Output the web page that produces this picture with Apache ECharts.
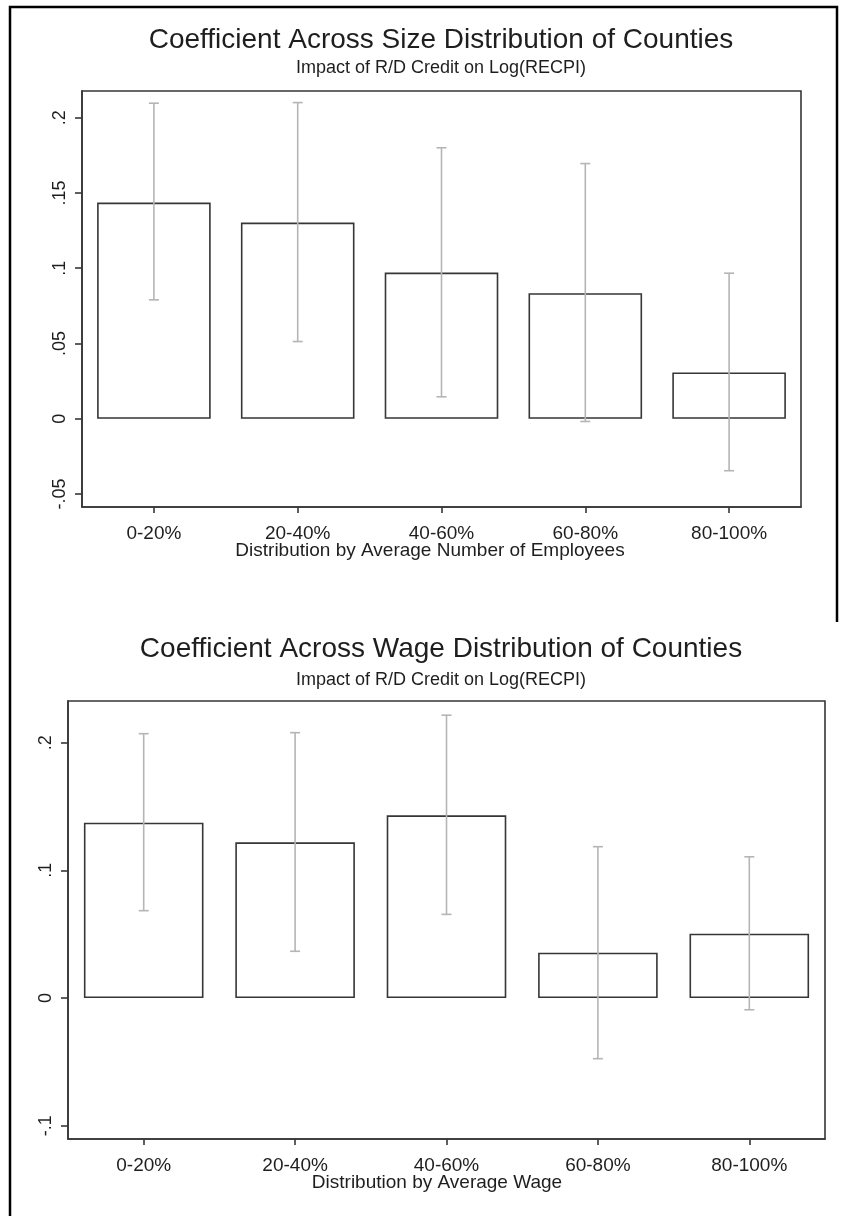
<!DOCTYPE html>
<html>
<head>
<meta charset="utf-8">
<script src="https://cdn.jsdelivr.net/npm/echarts@6/dist/echarts.min.js"></script>
<style>
  html, body { margin: 0; padding: 0; background: #fff; }
  #chart { width: 843px; height: 1216px; }
</style>
</head>
<body>
<div id="chart"></div>
<script>
// Quintile categories shared by both panels
const categories = ['0-20%', '20-40%', '40-60%', '60-80%', '80-100%'];

// Panel 1: size distribution (average number of employees)
const sizeCoef = [0.1436, 0.1303, 0.0971, 0.0834, 0.0308];
const sizeLow  = [0.0790, 0.0513, 0.0146, -0.0018, -0.0345];
const sizeHigh = [0.2096, 0.2100, 0.1800, 0.1695, 0.0967];
const sizeTicks = [-0.05, 0, 0.05, 0.1, 0.15, 0.2];
const sizeTickLabels = ['-.05', '0', '.05', '.1', '.15', '.2'];

// Panel 2: wage distribution (average wage)
const wageCoef = [0.1373, 0.1219, 0.1431, 0.0355, 0.0504];
const wageLow  = [0.0684, 0.0366, 0.0655, -0.0475, -0.0092];
const wageHigh = [0.2070, 0.2078, 0.2215, 0.1185, 0.1106];
const wageTicks = [-0.1, 0, 0.1, 0.2];
const wageTickLabels = ['-.1', '0', '.1', '.2'];

const FONT = '"Liberation Sans", Arial, Helvetica, sans-serif';
const INK = '#1e1e1e';
const FRAME = '#363636';
const CI_COLOR = '#b5b5b5';

const chart = echarts.init(document.getElementById('chart'), null, { renderer: 'canvas' });

function yAxisFor(gridIndex, min, max, ticks, labels) {
  return {
    type: 'value', gridIndex, min, max,
    axisLine: { show: true, onZero: false, lineStyle: { color: FRAME, width: 1.6 } },
    axisTick: { show: true, length: 7, inside: false, customValues: ticks,
                lineStyle: { color: FRAME, width: 1.6 } },
    axisLabel: {
      show: true, customValues: ticks, rotate: 90, margin: 13,
      fontFamily: FONT, fontSize: 18, color: INK,
      formatter: v => {
        const i = ticks.findIndex(t => Math.abs(t - v) < 1e-9);
        return i >= 0 ? labels[i] : '';
      }
    },
    splitLine: { show: false }
  };
}

function xAxisFor(gridIndex) {
  return {
    type: 'category', gridIndex, data: categories,
    axisLine: { show: true, onZero: false, lineStyle: { color: FRAME, width: 1.6 } },
    axisTick: { show: true, alignWithLabel: true, length: 6,
                lineStyle: { color: FRAME, width: 1.6 } },
    axisLabel: { fontFamily: FONT, fontSize: 19, color: INK, margin: 17 }
  };
}

function barSeries(axisIndex, values) {
  return {
    type: 'bar', xAxisIndex: axisIndex, yAxisIndex: axisIndex,
    data: values, barWidth: '79%', silent: true,
    itemStyle: { color: '#fff', borderColor: FRAME, borderWidth: 1.6 },
    z: 2
  };
}

// Confidence interval whiskers with caps, positioned through the axes
function ciSeries(axisIndex, low, high) {
  return {
    type: 'custom', xAxisIndex: axisIndex, yAxisIndex: axisIndex, silent: true, z: 3,
    data: categories.map((c, i) => [i, low[i], high[i]]),
    renderItem: (params, api) => {
      const lo = api.coord([api.value(0), api.value(1)]);
      const hi = api.coord([api.value(0), api.value(2)]);
      const cap = 5;
      const style = { stroke: CI_COLOR, lineWidth: 1.6 };
      return {
        type: 'group',
        children: [
          { type: 'line', shape: { x1: hi[0], y1: hi[1], x2: lo[0], y2: lo[1] }, style },
          { type: 'line', shape: { x1: hi[0] - cap, y1: hi[1], x2: hi[0] + cap, y2: hi[1] }, style },
          { type: 'line', shape: { x1: lo[0] - cap, y1: lo[1], x2: lo[0] + cap, y2: lo[1] }, style }
        ]
      };
    }
  };
}

function label(text, x, y, size) {
  return {
    type: 'text', x, y, silent: true,
    style: { text, fill: INK, font: size + 'px ' + FONT,
             textAlign: 'center', textVerticalAlign: 'middle' }
  };
}

const option = {
  backgroundColor: '#fff',
  animation: false,
  grid: [
    { left: 82, top: 91, right: 42, bottom: 709, show: true,
      borderColor: FRAME, borderWidth: 1.6, containLabel: false },
    { left: 68, top: 701, right: 18, bottom: 77, show: true,
      borderColor: FRAME, borderWidth: 1.6, containLabel: false }
  ],
  xAxis: [xAxisFor(0), xAxisFor(1)],
  yAxis: [
    yAxisFor(0, -0.0586, 0.2177, sizeTicks, sizeTickLabels),
    yAxisFor(1, -0.1104, 0.2326, wageTicks, wageTickLabels)
  ],
  series: [
    barSeries(0, sizeCoef), ciSeries(0, sizeLow, sizeHigh),
    barSeries(1, wageCoef), ciSeries(1, wageLow, wageHigh)
  ],
  graphic: [
    // page frame
    { type: 'polyline', silent: true,
      shape: { points: [[10, 1216], [10, 7], [837, 7], [837, 622]] },
      style: { stroke: '#000', lineWidth: 2.5, fill: null } },
    label('Coefficient Across Size Distribution of Counties', 441, 40, 28),
    label('Impact of R/D Credit on Log(RECPI)', 441, 68, 18),
    label('Distribution by Average Number of Employees', 430, 551, 19),
    label('Coefficient Across Wage Distribution of Counties', 441, 649, 28),
    label('Impact of R/D Credit on Log(RECPI)', 441, 680, 18),
    label('Distribution by Average Wage', 437, 1183, 19)
  ]
};

chart.setOption(option);
</script>
</body>
</html>
